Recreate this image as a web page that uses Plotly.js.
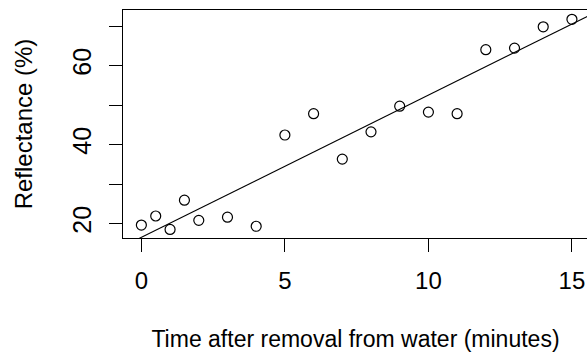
<!DOCTYPE html>
<html>
<head>
<meta charset="utf-8">
<script src="https://cdn.plot.ly/plotly-3.0.1.min.js"></script>
<style>
html, body { margin: 0; padding: 0; overflow: hidden; background: #fff; }
#chart { width: 590px; height: 353px; }
</style>
</head>
<body>
<div id="chart"></div>
<script>
// Data
const timeMinutes = [0, 0.5, 1, 1.5, 2, 3, 4, 5, 6, 7, 8, 9, 10, 11, 12, 13, 14, 15];
const reflectance = [19.6, 21.9, 18.5, 25.9, 20.8, 21.6, 19.3, 42.4, 47.8, 36.3, 43.2, 49.7, 48.2, 47.8, 64.0, 64.4, 69.8, 71.7];
// Fitted regression line (intercept, slope)
const fitIntercept = 16.5;
const fitSlope = 3.6;
// Axis ticks
const xTickVals = [0, 5, 10, 15];
const xTickText = ["0", "5", "10", "15"];
const yTickVals = [20, 30, 40, 50, 60, 70];
const yTickText = ["20", "", "40", "", "60", ""];

const xRange = [-0.64, 15.56];
const yRange = [16.33, 74.05];

const fitX = xRange.slice();
const fitY = fitX.map(x => fitIntercept + fitSlope * x);

const font = "Liberation Sans, Arial, sans-serif";

const traces = [
  {
    x: timeMinutes, y: reflectance, type: "scatter", mode: "markers",
    marker: { symbol: "circle-open", size: 10, color: "#000", line: { width: 1.2, color: "#000" } },
    hoverinfo: "x+y"
  },
  {
    x: fitX, y: fitY, type: "scatter", mode: "lines",
    line: { color: "#000", width: 1.1 }, hoverinfo: "skip"
  }
];

const layout = {
  width: 590, height: 353,
  margin: { l: 123, r: 2, t: 10, b: 115 },
  paper_bgcolor: "#fff", plot_bgcolor: "#fff",
  showlegend: false,
  font: { family: font, color: "#000", size: 24 },
  xaxis: {
    range: xRange, tickvals: xTickVals, ticktext: xTickText,
    ticks: "outside", ticklen: 13, tickwidth: 1, tickcolor: "#000",
    showline: true, mirror: true, linecolor: "#000", linewidth: 1,
    showgrid: false, zeroline: false,
    tickfont: { family: font, size: 24, color: "#000" },
    ticklabelstandoff: 8,
    title: { text: "Time after removal from water (minutes)", font: { family: font, size: 23, color: "#000" }, standoff: 38 }
  },
  yaxis: {
    range: yRange, tickvals: yTickVals, ticktext: yTickText,
    ticks: "outside", ticklen: 13, tickwidth: 1, tickcolor: "#000",
    showline: true, mirror: true, linecolor: "#000", linewidth: 1,
    showgrid: false, zeroline: false,
    tickangle: -90,
    tickfont: { family: font, size: 25, color: "#000" },
    ticklabelstandoff: 8,
    title: { text: "Reflectance (%)", font: { family: font, size: 24, color: "#000" }, standoff: 28 }
  }
};

Plotly.newPlot("chart", traces, layout, { displayModeBar: false, staticPlot: true });
</script>
</body>
</html>
